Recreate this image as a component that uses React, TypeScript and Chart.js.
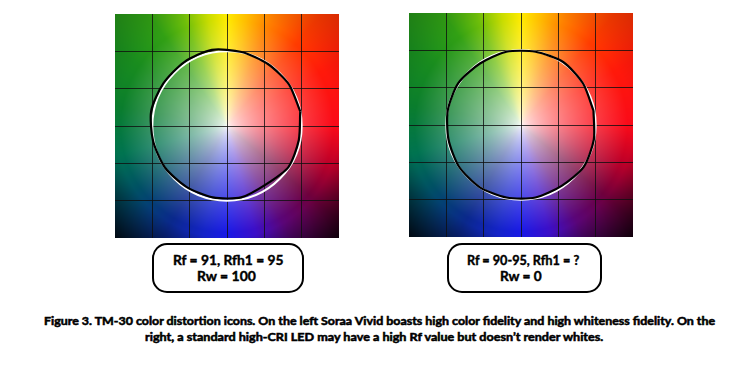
import React, { useEffect, useLayoutEffect, useRef } from "react";
import { Chart, registerables } from "chart.js";

Chart.register(...registerables);

// ---- data ----
const hueBinAngles = [11.25, 33.75, 56.25, 78.75, 101.25, 123.75, 146.25, 168.75, 191.25, 213.75, 236.25, 258.75, 281.25, 303.75, 326.25, 348.75];
const leftChromaRatios = [1.0, 1.0, 0.995, 1.01, 1.04, 1.03, 1.025, 1.035, 1.01, 1.0, 0.98, 0.975, 0.975, 0.94, 0.99, 0.98];
const rightChromaRatios = [0.99, 1.0, 1.015, 1.0, 1.0, 0.99, 1.01, 1.0, 0.99, 1.0, 1.0, 0.99, 0.99, 0.98, 1.01, 0.995];
const referenceRadius = 1;
const axisMin = -1.5;
const axisMax = 1.5;
const axisStep = 0.5;
const leftMetrics = ["Rf = 91, Rfh1 = 95", "Rw = 100"];
const rightMetrics = ["Rf = 90-95, Rfh1 = ?", "Rw = 0"];
const captionLines = [
  "Figure 3. TM-30 color distortion icons. On the left Soraa Vivid boasts high color fidelity and high whiteness fidelity. On the",
  "right, a standard high-CRI LED may have a high Rf value but doesn\u2019t render whites.",
];

// ---- background hue wheel (style) ----
const hueStopAngles = [0, 30, 50, 68, 80, 90, 100, 112, 125, 145, 170, 195, 215, 240, 258, 270, 285, 300, 320, 340, 360];
const hueStopColors: number[][] = [
  [250, 10, 25], [255, 25, 10], [255, 60, 0], [255, 130, 0], [255, 190, 0], [255, 235, 0], [200, 220, 0],
  [110, 190, 10], [50, 160, 20], [25, 140, 30], [10, 125, 45], [0, 115, 80], [0, 80, 100], [10, 40, 140],
  [20, 35, 200], [25, 25, 230], [60, 15, 200], [90, 5, 120], [110, 0, 60], [190, 0, 40], [250, 10, 25],
];

function edgeColor(deg: number) {
  for (let i = 0; i < hueStopAngles.length - 1; i++) {
    const a0 = hueStopAngles[i], a1 = hueStopAngles[i + 1];
    if (deg >= a0 && deg <= a1) {
      const t = (deg - a0) / (a1 - a0);
      const c0 = hueStopColors[i], c1 = hueStopColors[i + 1];
      return [c0[0] + (c1[0] - c0[0]) * t, c0[1] + (c1[1] - c0[1]) * t, c0[2] + (c1[2] - c0[2]) * t];
    }
  }
  return hueStopColors[0];
}

function wheelColor(nx: number, ny: number) {
  const r = Math.hypot(nx, ny);
  let deg = (Math.atan2(ny, nx) * 180) / Math.PI;
  if (deg < 0) deg += 360;
  const c = edgeColor(deg);
  const t = Math.pow(Math.min(1, r / 0.95), 0.65);
  let out = [255 * (1 - t) + c[0] * t, 255 * (1 - t) + c[1] * t, 255 * (1 - t) + c[2] * t];
  if (r > 1) {
    const d = Math.min(1, (r - 1) / 0.41);
    const lower = Math.max(0, Math.min(1, -ny / 0.6));
    const f = 1 - d * (0.15 + 0.7 * lower);
    out = out.map((v) => v * f);
  }
  return out;
}

const wheelPlugin = {
  id: "wheelBackground",
  beforeDraw(chart: any) {
    const { ctx, chartArea, scales } = chart;
    const { left, top, right, bottom } = chartArea;
    const w = Math.round(right - left), h = Math.round(bottom - top);
    const img = ctx.createImageData(w, h);
    const half = (axisMax - axisMin) / 2;
    for (let j = 0; j < h; j++) {
      const ny = scales.y.getValueForPixel(top + j + 0.5) / half;
      for (let i = 0; i < w; i++) {
        const nx = scales.x.getValueForPixel(left + i + 0.5) / half;
        const c = wheelColor(nx, ny);
        const k = (j * w + i) * 4;
        img.data[k] = c[0];
        img.data[k + 1] = c[1];
        img.data[k + 2] = c[2];
        img.data[k + 3] = 255;
      }
    }
    ctx.putImageData(img, left, top);
  },
  beforeDatasetsDraw(chart: any) {
    const { ctx, scales } = chart;
    const cx = scales.x.getPixelForValue(0);
    const cy = scales.y.getPixelForValue(0);
    const rr = scales.x.getPixelForValue(referenceRadius) - cx;
    ctx.save();
    ctx.beginPath();
    ctx.arc(cx, cy, rr, 0, Math.PI * 2);
    ctx.strokeStyle = "#ffffff";
    ctx.lineWidth = 2;
    ctx.stroke();
    ctx.restore();
  },
};

function buildPoints(ratios: number[]) {
  const pts = hueBinAngles.map((a, i) => {
    const rad = (a * Math.PI) / 180;
    return { x: ratios[i] * referenceRadius * Math.cos(rad), y: ratios[i] * referenceRadius * Math.sin(rad) };
  });
  pts.push({ ...pts[0] });
  return pts;
}

const gridColor = (ctx: any) =>
  ctx.tick && (ctx.tick.value === axisMin || ctx.tick.value === axisMax) ? "rgba(0,0,0,0)" : "rgba(15,15,15,0.8)";

function Icon({ ratios, left, top }: { ratios: number[]; left: number; top: number }) {
  const ref = useRef<HTMLCanvasElement>(null);
  useEffect(() => {
    const chart = new Chart(ref.current as HTMLCanvasElement, {
      type: "scatter",
      data: {
        datasets: [
          {
            data: buildPoints(ratios),
            showLine: true,
            borderColor: "#000000",
            borderWidth: 2.2,
            pointRadius: 0,
            tension: 0.25,
            fill: false,
          } as any,
        ],
      },
      options: {
        responsive: false,
        animation: false,
        events: [],
        layout: { padding: 0, autoPadding: false } as any,
        plugins: { legend: { display: false }, tooltip: { enabled: false }, title: { display: false } },
        scales: {
          x: {
            type: "linear",
            min: axisMin,
            max: axisMax,
            ticks: { display: false, stepSize: axisStep },
            grid: { color: gridColor, lineWidth: 1, drawTicks: false },
            border: { display: false },
          },
          y: {
            type: "linear",
            min: axisMin,
            max: axisMax,
            ticks: { display: false, stepSize: axisStep },
            grid: { color: gridColor, lineWidth: 1, drawTicks: false },
            border: { display: false },
          },
        },
      },
      plugins: [wheelPlugin],
    });
    return () => chart.destroy();
  }, [ratios]);
  return (
    <canvas
      ref={ref}
      width={224}
      height={224}
      style={{ position: "absolute", left, top, width: 224, height: 224 }}
    />
  );
}

const FONT = "Lato, 'DejaVu Sans', sans-serif";
const ASC = 0.887;

function FitLine({ text, left, width, baseline, size, stroke }: { text: string; left: number; width: number; baseline: number; size: number; stroke: number }) {
  const ref = useRef<HTMLSpanElement>(null);
  useLayoutEffect(() => {
    const el = ref.current;
    if (!el) return;
    el.style.transform = "none";
    const w = el.offsetWidth;
    if (w > 0) el.style.transform = `scaleX(${width / w})`;
  }, [text, width]);
  return (
    <span
      ref={ref}
      style={{
        position: "absolute",
        left,
        top: baseline - size * ASC,
        fontFamily: FONT,
        fontWeight: 700,
        fontSize: size,
        lineHeight: `${size}px`,
        whiteSpace: "nowrap",
        transformOrigin: "0 0",
        color: "#000",
        WebkitTextStroke: `${stroke}px #000`,
      }}
    >
      {text}
    </span>
  );
}

function Box({ left, width }: { left: number; width: number }) {
  return (
    <div
      style={{
        position: "absolute",
        left,
        top: 243,
        width,
        height: 50,
        boxSizing: "border-box",
        border: "2px solid #000",
        borderRadius: 15,
      }}
    />
  );
}

export default function App() {
  return (
    <div style={{ position: "fixed", left: 0, top: 0, width: 755, height: 370, background: "#fff", overflow: "hidden" }}>
      <Icon ratios={leftChromaRatios} left={115} top={14} />
      <Icon ratios={rightChromaRatios} left={409} top={13} />
      <Box left={152} width={152} />
      <Box left={447} width={155} />
      <FitLine text={leftMetrics[0]} left={172.5} width={110} baseline={266} size={13} stroke={0.4} />
      <FitLine text={leftMetrics[1]} left={197} width={59} baseline={282} size={13} stroke={0.4} />
      <FitLine text={rightMetrics[0]} left={466.5} width={112} baseline={266} size={13} stroke={0.4} />
      <FitLine text={rightMetrics[1]} left={500} width={42} baseline={282} size={13} stroke={0.4} />
      <FitLine text={captionLines[0]} left={44} width={671} baseline={325} size={11.5} stroke={0.55} />
      <FitLine text={captionLines[1]} left={145} width={458} baseline={341} size={11.5} stroke={0.55} />
    </div>
  );
}
